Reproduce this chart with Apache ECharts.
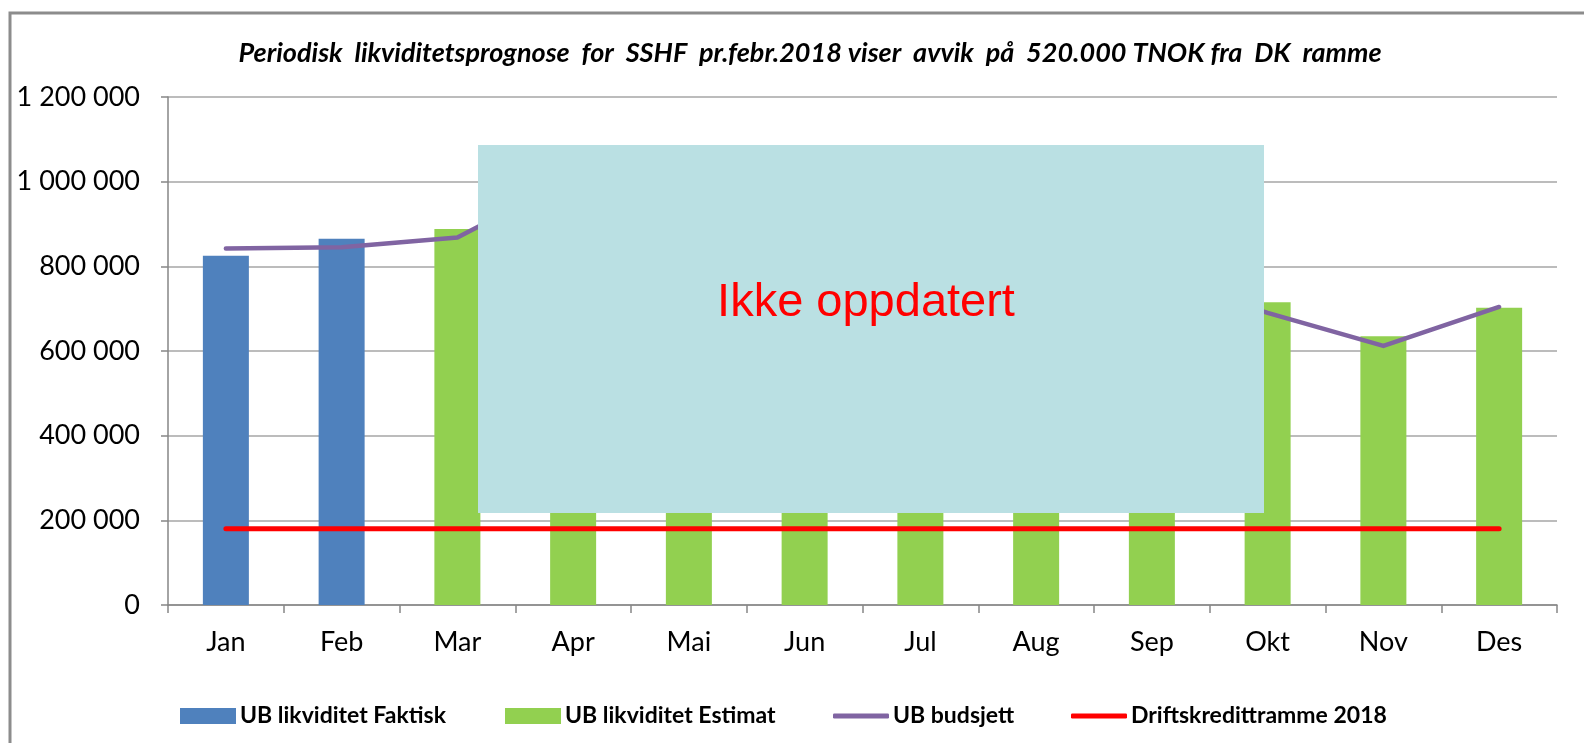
<!DOCTYPE html>
<html>
<head>
<meta charset="utf-8">
<script src="https://cdn.jsdelivr.net/npm/echarts@6/dist/echarts.min.js"></script>
<style>
  html, body { margin: 0; padding: 0; background: #fff; }
  #chart { width: 1584px; height: 743px; }
</style>
</head>
<body>
<div id="chart"></div>
<script>
// data
const months = ['Jan', 'Feb', 'Mar', 'Apr', 'Mai', 'Jun', 'Jul', 'Aug', 'Sep', 'Okt', 'Nov', 'Des'];
const ubFaktisk = [825000, 865000, null, null, null, null, null, null, null, null, null, null];
const ubEstimat = [null, null, 888000, 860000, 830000, 800000, 780000, 790000, 760000, 715000, 635000, 702000];
const ubBudsjett = [842000, 845000, 868000, 1010000, 950000, 900000, 850000, 820000, 780000, 690000, 612000, 704000];
const driftskreditt = [180000, 180000, 180000, 180000, 180000, 180000, 180000, 180000, 180000, 180000, 180000, 180000];

const font = 'Lato, "Open Sans", sans-serif';

function fmt(v) {
  return String(v).replace(/\B(?=(\d{3})+(?!\d))/g, ' ');
}

const chart = echarts.init(document.getElementById('chart'));

//one legend per item so they can sit where the original has them
function legendAt(name, left, icon, h) {
  return {
    data: [{ name: name, icon: icon }],
    left: left,
    top: 698,
    itemWidth: 56,
    itemHeight: h,
    itemGap: 0,
    lineStyle: { width: 5, cap: 'round' },
    textStyle: { fontFamily: font, fontWeight: 'bold', fontSize: 23, color: '#000', lineHeight: 26, padding: [0, 0, 0, -1] },
    selectedMode: false
  };
}

const option = {
  animation: false,
  backgroundColor: '#fff',
  title: {
    text: 'Periodisk  likviditetsprognose  for  SSHF  pr.febr.2018 viser  avvik  på  520.000 TNOK fra  DK  ramme',
    left: 805,
    textAlign: 'center',
    top: 35,
    textStyle: { fontFamily: font, fontStyle: 'italic', fontWeight: 'bold', fontSize: 27, color: '#000' }
  },
  legend: [
    legendAt('UB likviditet Faktisk', 175, 'rect', 16),
    legendAt('UB likviditet Estimat', 500, 'rect', 16),
    legendAt('UB budsjett', 828, 'roundRect', 5),
    legendAt('Driftskredittramme 2018', 1066, 'roundRect', 5)
  ],
  grid: { left: 168, right: 27, top: 97, bottom: 138 },
  xAxis: {
    type: 'category',
    data: months,
    boundaryGap: true,
    axisLine: { lineStyle: { color: '#868686', width: 1.5 } },
    axisTick: { show: true, length: 8, alignWithLabel: false, lineStyle: { color: '#868686', width: 1.5 } },
    axisLabel: { fontFamily: font, fontSize: 27, color: '#000', margin: 24 }
  },
  yAxis: {
    type: 'value',
    min: 0,
    max: 1200000,
    interval: 200000,
    axisLine: { show: true, lineStyle: { color: '#868686', width: 1.5 } },
    axisTick: { show: true, length: 7, lineStyle: { color: '#868686', width: 1.5 } },
    axisLabel: { fontFamily: font, fontSize: 27, color: '#000', margin: 28, formatter: fmt },
    splitLine: { lineStyle: { color: '#a6a6a6', width: 1.5 } }
  },
  series: [
    {
      name: 'UB likviditet Faktisk',
      type: 'bar',
      data: ubFaktisk,
      barWidth: 46,
      barGap: '-100%',
      itemStyle: { color: '#4F81BD' }
    },
    {
      name: 'UB likviditet Estimat',
      type: 'bar',
      data: ubEstimat,
      barWidth: 46,
      barGap: '-100%',
      itemStyle: { color: '#92D050' }
    },
    {
      name: 'UB budsjett',
      type: 'line',
      data: ubBudsjett,
      symbol: 'none',
      lineStyle: { color: '#8064A2', width: 4.5, cap: 'round', join: 'round' },
      itemStyle: { color: '#8064A2' },
      z: 3
    },
    {
      name: 'Driftskredittramme 2018',
      type: 'line',
      data: driftskreditt,
      symbol: 'none',
      lineStyle: { color: '#FF0000', width: 5, cap: 'round' },
      itemStyle: { color: '#FF0000' },
      z: 4
    }
  ],
  graphic: [
    {
      type: 'rect',
      shape: { x: 10, y: 13, width: 1600, height: 800 },
      style: { fill: null, stroke: '#8c8c8c', lineWidth: 3 },
      silent: true,
      z: 0
    },
    // text box "Ikke oppdatert" lying over the chart
    {
      type: 'rect',
      shape: { x: 478, y: 145, width: 786, height: 368 },
      style: { fill: '#BAE0E3' },
      silent: true,
      z: 100
    },
    {
      type: 'text',
      x: 866,
      y: 303,
      style: {
        text: 'Ikke oppdatert',
        fill: '#FF0000',
        font: '47px "Liberation Sans", Arial, sans-serif',
        align: 'center',
        verticalAlign: 'middle'
      },
      silent: true,
      z: 101
    }
  ]
};

chart.setOption(option);
</script>
</body>
</html>
